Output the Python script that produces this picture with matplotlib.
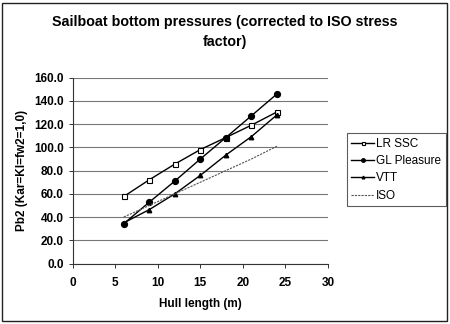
import matplotlib
matplotlib.use("Agg")
import matplotlib.pyplot as plt
from matplotlib.patches import Rectangle

plt.rcParams['font.family'] = ['Liberation Sans', 'DejaVu Sans']

hull_length = [6, 9, 12, 15, 18, 21, 24]
lr_ssc = [57.7, 72.1, 85.6, 98.1, 108.5, 119.1, 130.5]
gl_pleasure = [34.3, 52.8, 71.0, 90.0, 108.5, 127.2, 146.0]
vtt = [35.0, 46.4, 60.0, 75.9, 93.4, 109.3, 128.0]
iso = [40.0, 50.0, 60.0, 70.0, 80.0, 90.0, 101.0]

title = "Sailboat bottom pressures (corrected to ISO stress\nfactor)"
xlabel = "Hull length (m)"
ylabel = "Pb2 (Kar=Kl=fw2=1,0)"

fig = plt.figure(figsize=(4.5, 3.24), dpi=100)
fig.patches.append(Rectangle((2/450, 1 - 321/324), 445/450, 318/324,
                             transform=fig.transFigure, fill=False,
                             edgecolor='#222222', linewidth=1.0))

ax = fig.add_axes([72.7/450, 1 - 263.5/324, (328 - 72.7)/450, (263.5 - 77.7)/324])

ax.plot(hull_length, lr_ssc, color='black', lw=1.0, marker='s', ms=3.6,
        mfc='white', mec='black', mew=0.8, label='LR SSC')
ax.plot(hull_length, gl_pleasure, color='black', lw=1.0, marker='o', ms=4.2,
        mfc='black', mec='black', label='GL Pleasure')
ax.plot(hull_length, vtt, color='black', lw=1.0, marker='^', ms=3.2,
        mfc='black', mec='black', label='VTT')
ax.plot(hull_length, iso, color='#555555', lw=0.8, ls=(0, (2, 1)), label='ISO')

ax.set_xlim(0, 30)
ax.set_ylim(0, 160)
ax.set_xticks(range(0, 31, 5))
ax.set_yticks(range(0, 161, 20))
ax.set_yticklabels([f"{v:.1f}" for v in range(0, 161, 20)])
ax.yaxis.grid(True, color='#777777', lw=0.8)
ax.set_axisbelow(True)
for s in ['top', 'right']:
    ax.spines[s].set_visible(False)
for s in ['left', 'bottom']:
    ax.spines[s].set_color('#333333')
    ax.spines[s].set_linewidth(0.8)
ax.tick_params(axis='both', labelsize=8.5, length=3, width=0.7, color='#333333')
ax.tick_params(axis='x', pad=7)
for lbl in ax.get_xticklabels() + ax.get_yticklabels():
    lbl.set_fontweight('bold')

ax.set_xlabel(xlabel, fontsize=8.5, fontweight='bold', labelpad=6)
ax.set_ylabel(ylabel, fontsize=8.5, fontweight='bold', labelpad=4)

fig.text(0.5, 1 - 32/324, title, ha='center', va='center', fontsize=10.3,
         fontweight='bold', linespacing=1.6)

leg = fig.legend(loc='upper right', bbox_to_anchor=(446/450, 1 - 133/324),
                 fontsize=8.5, frameon=True, fancybox=False, borderpad=0.4,
                 handlelength=1.9, handletextpad=0.2, labelspacing=0.45,
                 borderaxespad=0, markerscale=0.6)
leg.get_frame().set_edgecolor('#333333')
leg.get_frame().set_linewidth(0.8)

fig.savefig("out.png", dpi=100)
